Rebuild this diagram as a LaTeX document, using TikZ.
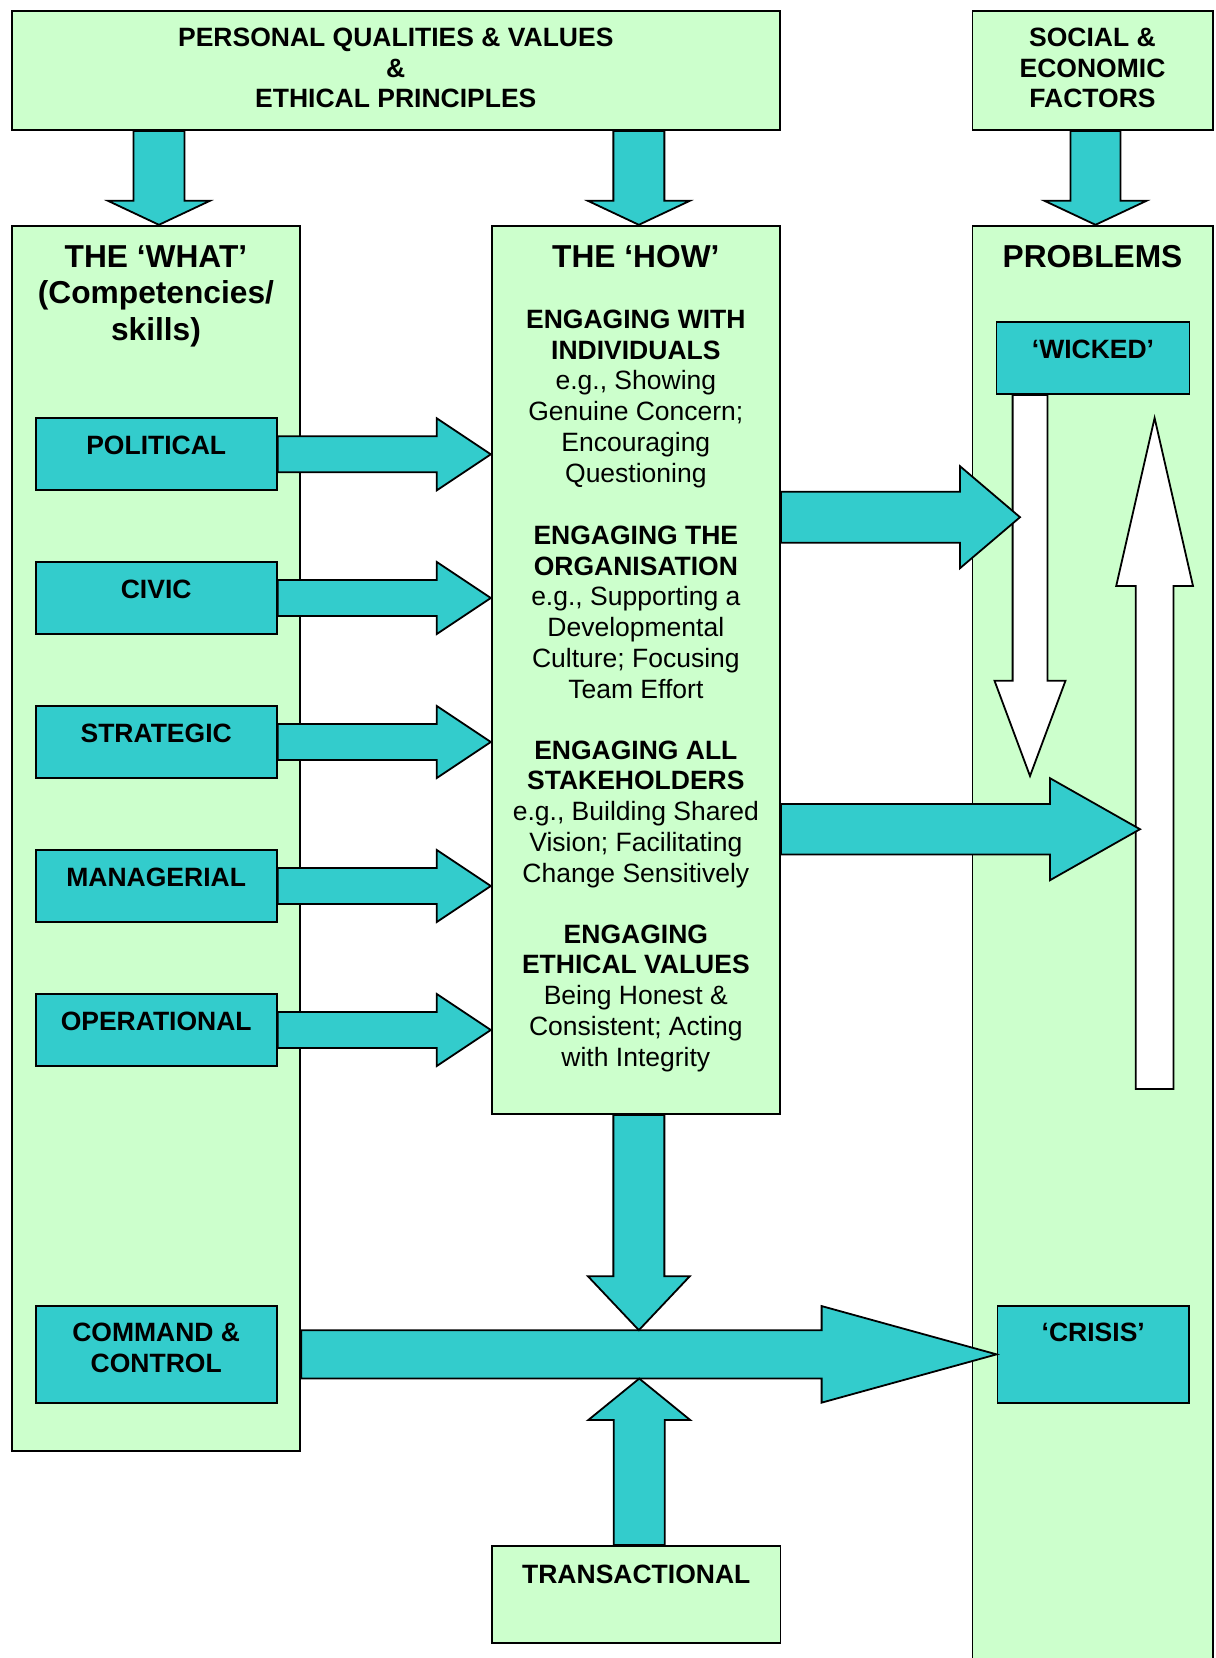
\documentclass[tikz,border=0pt]{standalone}
\usepackage{fontspec}
\setmainfont{Liberation Sans}
\usetikzlibrary{calc,fit}
\definecolor{lgreen}{HTML}{CCFFCC}
\definecolor{tealfill}{HTML}{33CCCC}
% horizontal block arrow pointing right: style, start, tip, half shaft, half head, head length
\newcommand\harrow[6]{\path[#1] let \p1=(#2), \p2=(#3) in
  (\x1,\y2+#4) -- (\x2-#6,\y2+#4) -- (\x2-#6,\y2+#5) -- (\x2,\y2) --
  (\x2-#6,\y2-#5) -- (\x2-#6,\y2-#4) -- (\x1,\y2-#4) -- cycle;}
% vertical block arrow pointing down
\newcommand\darrow[6]{\path[#1] let \p1=(#2), \p2=(#3) in
  (\x2-#4,\y1) -- (\x2-#4,\y2+#6) -- (\x2-#5,\y2+#6) -- (\x2,\y2) --
  (\x2+#5,\y2+#6) -- (\x2+#4,\y2+#6) -- (\x2+#4,\y1) -- cycle;}
% vertical block arrow pointing up
\newcommand\uarrow[6]{\path[#1] let \p1=(#2), \p2=(#3) in
  (\x2-#4,\y1) -- (\x2-#4,\y2-#6) -- (\x2-#5,\y2-#6) -- (\x2,\y2) --
  (\x2+#5,\y2-#6) -- (\x2+#4,\y2-#6) -- (\x2+#4,\y1) -- cycle;}
\begin{document}
\begin{tikzpicture}[x=1pt,y=-1pt,line width=1.8pt,
  gbox/.style={draw=black,fill=lgreen,inner sep=0pt,rectangle},
  tbox/.style={draw=black,fill=tealfill,inner sep=0pt,rectangle},
  tarr/.style={draw=black,fill=tealfill,line join=miter},
  warr/.style={draw=black,fill=white,line join=miter},
  body/.style={anchor=north,inner sep=0pt,align=center,font=\fontsize{26.5}{30.7}\selectfont},
  bodyb/.style={anchor=north,inner sep=0pt,align=center,font=\fontsize{26.5}{30.7}\selectfont\bfseries},
  headtxt/.style={anchor=north,inner sep=0pt,align=center,font=\fontsize{31.7}{36.5}\selectfont\bfseries}]
\useasboundingbox (0,0) rectangle (1216,1658);
\fill[white] (0,0) rectangle (1216,1658);
% big boxes
\node[gbox,fit={(11.6,10.6) (780,130)}] (top) {};
\node[gbox,fit={(972.4,10.6) (1212.6,130)}] (soc) {};
\node[gbox,fit={(11.6,225.7) (300.3,1450.7)}] (what) {};
\node[gbox,fit={(491.7,225.7) (780,1114)}] (how) {};
\node[gbox,fit={(972.4,225.7) (1212.6,1675)}] (prob) {};
\node[gbox,fit={(492,1546) (780.5,1642.7)}] (trans) {};
% top arrows
\coordinate (whatIn) at ($(what.north)+(3,0)$);
\coordinate (howIn) at ($(how.north)+(3,0)$);
\coordinate (probIn) at ($(prob.north)+(3,0)$);
\darrow{tarr}{top.south -| whatIn}{whatIn}{25.5pt}{51pt}{24pt}
\darrow{tarr}{top.south -| howIn}{howIn}{25.5pt}{51pt}{24pt}
\darrow{tarr}{soc.south -| probIn}{probIn}{25pt}{51pt}{24pt}
% teal boxes
\node[tbox,fit={(35.7,418.3) (276.7,490.3)}] (pol) {};
\node[tbox,fit={(35.7,562) (276.7,634)}] (civ) {};
\node[tbox,fit={(35.7,706) (276.7,778)}] (str) {};
\node[tbox,fit={(35.7,850) (276.7,922)}] (man) {};
\node[tbox,fit={(35.7,994) (276.7,1066)}] (ope) {};
\node[tbox,fit={(35.7,1306) (276.7,1402.7)}] (cc) {};
\node[tbox,fit={(996.5,322) (1189.5,394)}] (wick) {};
\node[tbox,fit={(997.5,1306) (1189,1402.7)}] (cris) {};
% white arrows
\coordinate (wd1) at (1030,776);
\coordinate (wu0) at (1154.6,1089);
\coordinate (wu1) at (1154.6,418);
\darrow{warr}{wick.south -| wd1}{wd1}{17.4pt}{35.5pt}{95.3pt}
\uarrow{warr}{wu0}{wu1}{18.9pt}{38.4pt}{168pt}
% left arrows into HOW
\harrow{tarr}{pol.east}{how.west |- pol.east}{18pt}{36pt}{54pt}
\harrow{tarr}{civ.east}{how.west |- civ.east}{18pt}{36pt}{54pt}
\harrow{tarr}{str.east}{how.west |- str.east}{18pt}{36pt}{54pt}
\harrow{tarr}{man.east}{how.west |- man.east}{18pt}{36pt}{54pt}
\harrow{tarr}{ope.east}{how.west |- ope.east}{18pt}{36pt}{54pt}
% HOW to problems
\coordinate (w1) at (1020,517.2);
\coordinate (w2) at (1140,829.2);
\harrow{tarr}{how.east |- w1}{w1}{25.5pt}{51pt}{60pt}
\harrow{tarr}{how.east |- w2}{w2}{25.2pt}{51pt}{90pt}
% command & control arrow
\harrow{tarr}{what.east |- cc.east}{cris.west}{24.2pt}{48.3pt}{175pt}
\coordinate (ccT) at ($(cris.west)+(0,-24.2)$);
\coordinate (ccB) at ($(cris.west)+(0,24.2)$);
\coordinate (howOut) at ($(how.south)+(3,0)$);
\coordinate (transOut) at ($(trans.north)+(3,0)$);
\darrow{tarr}{howOut}{howOut |- ccT}{25.5pt}{51pt}{54pt}
\uarrow{tarr}{transOut}{transOut |- ccB}{25.5pt}{51pt}{41.5pt}
% texts
\node[bodyb] (topT) at ($(top.north)+(0,13.9)$) {\rule{0pt}{22pt}PERSONAL QUALITIES \& VALUES\\\&\\ETHICAL PRINCIPLES};
\node[bodyb] (socT) at ($(soc.north)+(0,13.9)$) {\rule{0pt}{22pt}SOCIAL \&\\ECONOMIC\\FACTORS};
\node[headtxt] (whatT) at ($(what.north)+(0,13.7)$) {\rule{0pt}{28pt}THE ‘WHAT’\\(Competencies/\\skills)};
\node[headtxt] (howT) at ($(how.north)+(0,13.7)$) {\rule{0pt}{28pt}THE ‘HOW’};
\node[headtxt] (probT) at ($(prob.north)+(0,13.7)$) {\rule{0pt}{28pt}PROBLEMS};
\node[body] (how1) at ($(how.north)+(0,80.8)$) {\rule{0pt}{22pt}\textbf{ENGAGING WITH}\\\textbf{INDIVIDUALS}\\e.g., Showing\\Genuine Concern;\\Encouraging\\Questioning};
\node[body] (how2) at ($(how.north)+(0,296.8)$) {\rule{0pt}{22pt}\textbf{ENGAGING THE}\\\textbf{ORGANISATION}\\e.g., Supporting a\\Developmental\\Culture; Focusing\\Team Effort};
\node[body] (how3) at ($(how.north)+(0,511.5)$) {\rule{0pt}{22pt}\textbf{ENGAGING ALL}\\\textbf{STAKEHOLDERS}\\e.g., Building Shared\\Vision; Facilitating\\Change Sensitively};
\node[body] (how4) at ($(how.north)+(0,695.5)$) {\rule{0pt}{22pt}\textbf{ENGAGING}\\\textbf{ETHICAL VALUES}\\Being Honest \&\\Consistent; Acting\\with Integrity};
\node[bodyb] (polT) at ($(pol.north)+(0,14.5)$) {\rule{0pt}{22pt}POLITICAL};
\node[bodyb] (civT) at ($(civ.north)+(0,14.5)$) {\rule{0pt}{22pt}CIVIC};
\node[bodyb] (strT) at ($(str.north)+(0,14.5)$) {\rule{0pt}{22pt}STRATEGIC};
\node[bodyb] (manT) at ($(man.north)+(0,14.5)$) {\rule{0pt}{22pt}MANAGERIAL};
\node[bodyb] (opeT) at ($(ope.north)+(0,14.5)$) {\rule{0pt}{22pt}OPERATIONAL};
\node[bodyb] (ccT2) at ($(cc.north)+(0,13.8)$) {\rule{0pt}{22pt}COMMAND \&\\CONTROL};
\node[bodyb] (wickT) at ($(wick.north)+(0,14.5)$) {\rule{0pt}{22pt}‘WICKED’};
\node[bodyb] (crisT) at ($(cris.north)+(0,13.8)$) {\rule{0pt}{22pt}‘CRISIS’};
\node[bodyb] (transT) at ($(trans.north)+(0,15)$) {\rule{0pt}{22pt}TRANSACTIONAL};
\end{tikzpicture}
\end{document}
